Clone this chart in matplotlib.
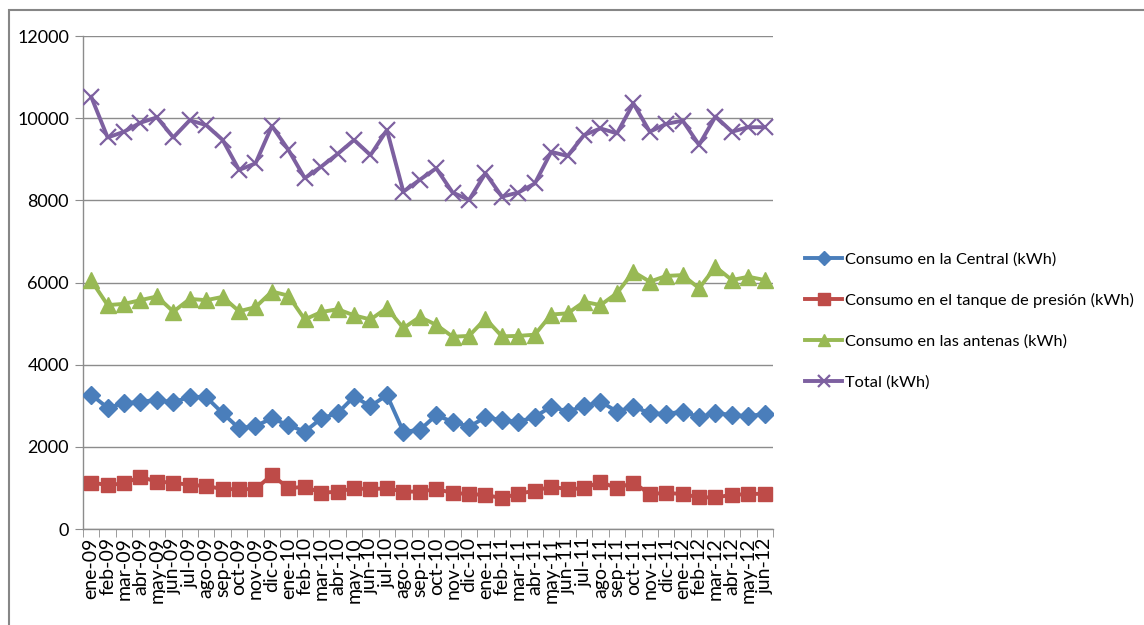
import matplotlib.pyplot as plt
import numpy as np
from matplotlib.patches import Rectangle

plt.rcParams["font.family"] = ["Lato", "DejaVu Sans"]

meses = [
    "ene-09", "feb-09", "mar-09", "abr-09", "may-09", "jun-09",
    "jul-09", "ago-09", "sep-09", "oct-09", "nov-09", "dic-09",
    "ene-10", "feb-10", "mar-10", "abr-10", "may-10", "jun-10",
    "jul-10", "ago-10", "sep-10", "oct-10", "nov-10", "dic-10",
    "ene-11", "feb-11", "mar-11", "abr-11", "may-11", "jun-11",
    "jul-11", "ago-11", "sep-11", "oct-11", "nov-11", "dic-11",
    "ene-12", "feb-12", "mar-12", "abr-12", "may-12", "jun-12",
]

central = [
    3270, 2950, 3060, 3100, 3140, 3080, 3220, 3210, 2820, 2450, 2510, 2690,
    2530, 2370, 2690, 2820, 3220, 2990, 3260, 2370, 2410, 2770, 2610, 2490,
    2720, 2650, 2610, 2730, 2980, 2860, 2990, 3100, 2860, 2980, 2820, 2800,
    2860, 2720, 2830, 2770, 2750, 2800,
]

tanque = [
    1130, 1070, 1110, 1270, 1150, 1130, 1070, 1050, 970, 970, 970, 1320,
    990, 1030, 880, 910, 990, 970, 990, 910, 910, 970, 880, 850,
    830, 750, 860, 930, 1030, 970, 990, 1150, 990, 1130, 850, 880,
    850, 770, 770, 830, 850, 860,
]

antenas = [
    6050, 5450, 5480, 5570, 5660, 5290, 5600, 5570, 5650, 5300, 5400, 5780,
    5680, 5100, 5280, 5350, 5200, 5100, 5380, 4890, 5160, 4970, 4680, 4700,
    5120, 4690, 4700, 4730, 5220, 5250, 5530, 5450, 5740, 6260, 6020, 6160,
    6180, 5860, 6380, 6060, 6140, 6060,
]

total = [
    10520, 9530, 9670, 9890, 10020, 9530, 9950, 9830, 9470, 8740, 8900, 9810,
    9230, 8540, 8820, 9130, 9470, 9100, 9710, 8210, 8500, 8780, 8190, 8010,
    8660, 8090, 8190, 8410, 9180, 9080, 9590, 9750, 9630, 10360, 9670, 9860,
    9940, 9350, 10040, 9670, 9780, 9780,
]

series = [
    ("Consumo en la Central (kWh)", central, "#4A7EBB", "D", 9.5),
    ("Consumo en el tanque de presión (kWh)", tanque, "#BE4B48", "s", 10.5),
    ("Consumo en las antenas (kWh)", antenas, "#98B954", "^", 11.5),
    ("Total (kWh)", total, "#7D60A0", "x", 11),
]

fig = plt.figure(figsize=(11.44, 6.25), dpi=100)
ax = fig.add_axes([83 / 1144, 1 - 529 / 625, 690 / 1144, 493 / 625])

# marco exterior del gráfico
fig.patches.append(Rectangle((9 / 1144, -0.05), 1.2, 1 - 10 / 625 + 0.05,
                             transform=fig.transFigure, fill=False,
                             edgecolor="#868686", linewidth=1.5))

x = np.arange(len(meses))
for nombre, valores, color, marcador, tam in series:
    if marcador == "x":
        ax.plot(x, valores, color=color, linewidth=2.8, marker=marcador,
                markersize=tam, markeredgewidth=1.6, label=nombre, zorder=3)
    else:
        ax.plot(x, valores, color=color, linewidth=2.8, marker=marcador,
                markersize=tam, markeredgecolor=color, label=nombre, zorder=3)

ax.set_xlim(-0.5, len(meses) - 0.5)
ax.set_ylim(0, 12000)
ax.set_yticks(np.arange(0, 12001, 2000))
ax.yaxis.grid(True, color="#8C8C8C", linewidth=1.0)
ax.set_axisbelow(True)

ax.set_xticks(x)
ax.set_xticklabels(meses, rotation=90, fontsize=14)
ax.set_xticks(np.arange(-0.5, len(meses), 1), minor=True)
ax.tick_params(axis="x", which="major", length=0, pad=6)
ax.tick_params(axis="x", which="minor", length=6, color="#8C8C8C")
ax.tick_params(axis="y", length=6, color="#8C8C8C", labelsize=13, pad=4)

for lado in ["top", "right"]:
    ax.spines[lado].set_visible(False)
for lado in ["left", "bottom"]:
    ax.spines[lado].set_color("#8C8C8C")
    ax.spines[lado].set_linewidth(1.0)

ax.legend(loc="center left", bbox_to_anchor=(790 / 1144, 1 - 321 / 625),
          bbox_transform=fig.transFigure, frameon=False, fontsize=11.8,
          handlelength=2.3, handletextpad=0.15, labelspacing=1.6,
          markerscale=0.8)

fig.savefig("out.png", dpi=100)
